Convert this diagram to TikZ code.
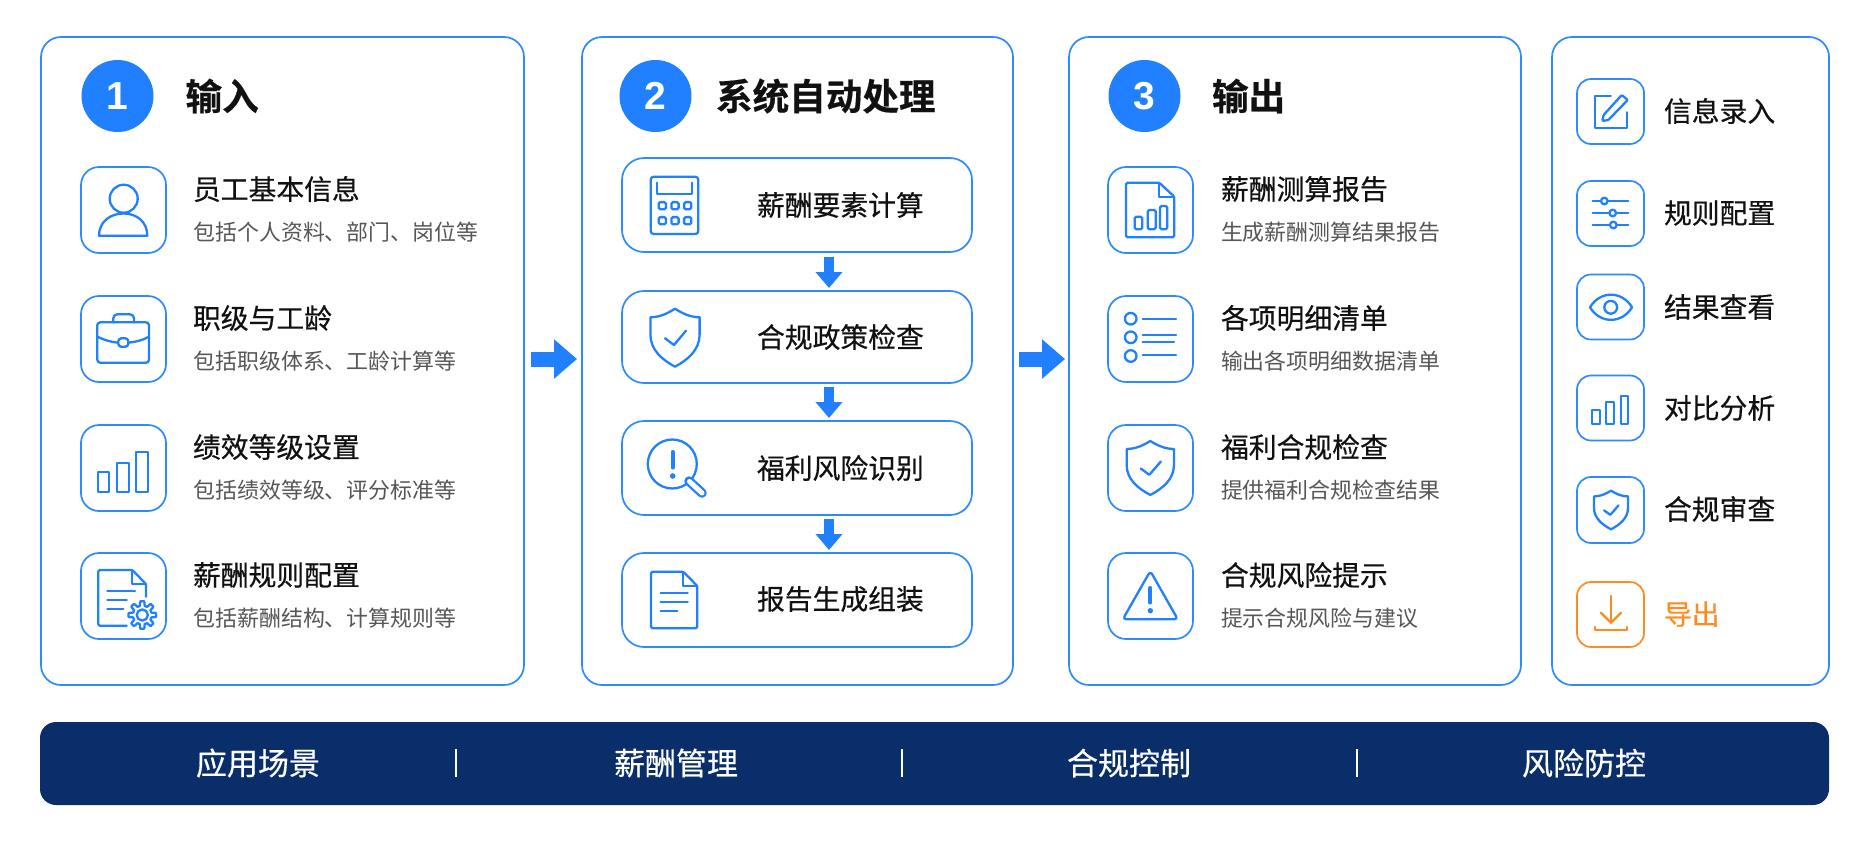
\documentclass[tikz,border=0pt]{standalone}
\usepackage{fontspec}
\usetikzlibrary{arrows.meta,calc}
\newfontfamily\cjkreg{Noto Sans CJK SC}
\newfontfamily\cjkmed[FakeBold=0.45]{Noto Sans CJK SC}
\newfontfamily\cjkbold[FakeBold=0.5]{Noto Sans CJK SC Bold}
\newfontfamily\numfont{Liberation Sans}
\definecolor{brand}{HTML}{2080FF}
\definecolor{edge}{HTML}{2E8AFF}
\definecolor{navy}{HTML}{0A2E6A}
\definecolor{amber}{HTML}{FF8A1F}
\definecolor{ink}{HTML}{111111}
\definecolor{soft}{HTML}{565656}
\tikzset{
  x=1pt,y=-1pt,
  every node/.style={inner sep=0pt,outer sep=0pt},
  panel/.style={draw=edge,line width=1.7pt,fill=white,rounded corners=20pt,minimum height=648pt},
  iconbox/.style={draw=edge,line width=1.7pt,fill=white,rounded corners=18pt,minimum width=85pt,minimum height=86pt},
  toolbox/.style={draw=edge,line width=1.7pt,fill=white,rounded corners=14pt,minimum width=67pt,minimum height=65pt},
  stepcard/.style={draw=edge,line width=1.7pt,fill=white,rounded corners=22pt,minimum width=350pt},
  badge/.style={circle,fill=brand,minimum size=72pt,text=white,font=\numfont\bfseries\fontsize{39}{40}\selectfont},
  headline/.style={anchor=west,text=ink,font=\cjkbold\fontsize{36.6}{37}\selectfont},
  itemtitle/.style={anchor=west,text=ink,font=\cjkmed\fontsize{27.8}{28}\selectfont},
  itemnote/.style={anchor=west,text=soft,font=\cjkreg\fontsize{21.9}{22}\selectfont},
  bandtext/.style={text=white,font=\cjkmed\fontsize{31}{32}\selectfont},
  ic/.style={draw=brand,line width=2.3pt,line join=round,line cap=round},
  blockdown/.style={draw=brand,line width=10pt,-{Triangle[length=16pt,width=26pt,fill=brand]}},
  blockright/.style={draw=brand,line width=15pt,-{Triangle[length=23pt,width=38pt,fill=brand]}},
}
\newcommand{\shieldicon}[4]{% top-centre x, top y, xscale, yscale
  \begin{scope}[shift={(#1,#2)},xscale=#3,yscale=#4]
    \draw[ic] (0,0) .. controls (-8,5) and (-15,8.4) .. (-24.6,8.6) -- (-24.6,26) .. controls (-24.6,41) and (-13,51) .. (0,58) .. controls (13,51) and (24.6,41) .. (24.6,26) -- (24.6,8.6) .. controls (15,8.4) and (8,5) .. (0,0) -- cycle;
    \draw[ic] (-10,29.6) -- (-1,36.3) -- (11,22);
  \end{scope}}
\begin{document}
\begin{tikzpicture}
\useasboundingbox (0,0) rectangle (1870,841);
\fill[white] (0,0) rectangle (1870,841);

% panels
\node[panel,minimum width=483pt] (p1) at (282.5,361) {};
\node[panel,minimum width=431pt] (p2) at (797.5,361) {};
\node[panel,minimum width=452pt] (p3) at (1295,361) {};
\node[panel,minimum width=277pt] (p4) at (1690.5,361) {};

% panel arrows
\draw[blockright] ($(p1.east)+(7,-2)$) -- ($(p2.west)+(-5,-2)$);
\draw[blockright] ($(p2.east)+(6,-2)$) -- ($(p3.west)+(-4,-2)$);

% headers
\node[badge] (n1) at (117.5,96) {1};
\node[badge] (n2) at (655.5,96) {2};
\node[badge] (n3) at (1144.5,96) {3};
\node[headline] (h1) at (185.5,96) {输入};
\node[headline] (h2) at (716,96) {系统自动处理};
\node[headline] (h3) at (1212,96) {输出};

% panel 1 items
\node[iconbox] (a1) at (123.5,210) {};
\node[iconbox] (a2) at (123.5,339) {};
\node[iconbox] (a3) at (123.5,468) {};
\node[iconbox] (a4) at (123.5,596) {};
\node[itemtitle] (a1t) at (193,189) {员工基本信息};
\node[itemnote]  (a1n) at (193.5,232) {包括个人资料、部门、岗位等};
\node[itemtitle] (a2t) at (193,318) {职级与工龄};
\node[itemnote]  (a2n) at (193.5,361) {包括职级体系、工龄计算等};
\node[itemtitle] (a3t) at (193,447) {绩效等级设置};
\node[itemnote]  (a3n) at (193.5,490) {包括绩效等级、评分标准等};
\node[itemtitle] (a4t) at (193,575) {薪酬规则配置};
\node[itemnote]  (a4n) at (193.5,618) {包括薪酬结构、计算规则等};

% person
\draw[ic] (123.7,198.7) circle (14);
\draw[ic] (99,235.7) -- (147.3,235.7) .. controls (147.3,222) and (137,213.5) .. (123.5,213.5) .. controls (110,213.5) and (99,222) .. (99,235.7) -- cycle;
% briefcase
\draw[ic,rounded corners=3pt] (97.3,322.3) rectangle (149,362.7);
\draw[ic,rounded corners=4pt] (113.3,322.3) -- (113.3,314.3) -- (134,314.3) -- (134,322.3);
\draw[ic] (97.3,336.7) .. controls (104,340) and (111,342) .. (118,342.7);
\draw[ic] (128.3,342.7) .. controls (136,342) and (143,340) .. (149,336.7);
\draw[ic,rounded corners=3pt] (118.3,338.3) rectangle (128.3,346.7);
% bars
\draw[ic] (98.3,472.3) rectangle (109,491.7);
\draw[ic] (117.3,463.3) rectangle (129.3,491.7);
\draw[ic] (136,452.3) rectangle (147.7,491.7);
% doc + gear
\draw[ic,rounded corners=1.5pt] (146,596.7) -- (146,584) -- (132.3,570) -- (98.3,570) -- (98.3,625.7) -- (126.7,625.7);
\draw[ic] (132.3,570) -- (132.3,584) -- (146,584);
\draw[ic] (107.3,590.7) -- (135,590.7);
\draw[ic] (107.3,600) -- (126.7,600);
\draw[ic] (107.3,609.3) -- (123.3,609.3);
\begin{scope}[shift={(142.3,615)}]
  \draw[ic,fill=white] plot[domain=0:360,samples=145] (\x:{11.6+2.2*max(-1,min(1,3*cos(8*\x)))}) -- cycle;
  \draw[ic] (0,0) circle (5.6);
\end{scope}

% panel 2 cards
\node[stepcard,minimum height=94pt] (b1) at (797,205) {};
\node[stepcard,minimum height=92pt] (b2) at (797,337) {};
\node[stepcard,minimum height=94pt] (b3) at (797,468) {};
\node[stepcard,minimum height=94pt] (b4) at (797,600) {};
\draw[blockdown] ($(b1.south)+(32,5)$) -- ($(b2.north)+(32,-3)$);
\draw[blockdown] ($(b2.south)+(32,4)$) -- ($(b3.north)+(32,-3)$);
\draw[blockdown] ($(b3.south)+(32,4)$) -- ($(b4.north)+(32,-3)$);
\node[itemtitle] (b1t) at (757,205) {薪酬要素计算};
\node[itemtitle] (b2t) at (757,337) {合规政策检查};
\node[itemtitle] (b3t) at (757,468) {福利风险识别};
\node[itemtitle] (b4t) at (757,599) {报告生成组装};
% calculator
\draw[ic,rounded corners=3pt] (650.7,176.7) rectangle (698.3,234);
\draw[ic] (657.3,182.7) -- (657.3,194) -- (691.7,194) -- (691.7,182.7);
\foreach \bx in {662.3,675,687.7}
  \foreach \by in {205.7,220.7}
    \draw[ic,rounded corners=1.5pt] (\bx-3.6,\by-3.6) rectangle (\bx+3.6,\by+3.6);
% shield
\shieldicon{675}{308.7}{1}{1}
% magnifier
\draw[ic] (672.3,464) circle (24.5);
\draw[draw=brand,line width=9.5pt,line cap=round] (689,481) -- (702,493);
\draw[draw=white,line width=5pt,line cap=round] (689.5,481.5) -- (702,493);
\draw[ic,line width=4pt] (672.7,452) -- (672.7,467.5);
\fill[brand] (672.7,476) circle (2.8);
% document
\draw[ic,rounded corners=1.5pt] (683.3,571.7) -- (651,571.7) -- (651,628.3) -- (697.3,628.3) -- (697.3,586) -- cycle;
\draw[ic] (683.3,571.7) -- (683.3,586) -- (697.3,586);
\draw[ic] (660.7,592.7) -- (687.7,592.7);
\draw[ic] (660.7,602) -- (687.7,602);
\draw[ic] (660.7,611) -- (677.3,611);

% panel 3 items
\node[iconbox] (c1) at (1150.5,210) {};
\node[iconbox] (c2) at (1150.5,339) {};
\node[iconbox] (c3) at (1150.5,468) {};
\node[iconbox] (c4) at (1150.5,596) {};
\node[itemtitle] (c1t) at (1221,189) {薪酬测算报告};
\node[itemnote]  (c1n) at (1221,232) {生成薪酬测算结果报告};
\node[itemtitle] (c2t) at (1221,318) {各项明细清单};
\node[itemnote]  (c2n) at (1221,361) {输出各项明细数据清单};
\node[itemtitle] (c3t) at (1221,447) {福利合规检查};
\node[itemnote]  (c3n) at (1221,490) {提供福利合规检查结果};
\node[itemtitle] (c4t) at (1221,575) {合规风险提示};
\node[itemnote]  (c4n) at (1221,618) {提示合规风险与建议};
% report chart
\draw[ic,rounded corners=1.5pt] (1159.3,182.7) -- (1126,182.7) -- (1126,237.3) -- (1174.3,237.3) -- (1174.3,196.7) -- cycle;
\draw[ic] (1159.3,182.7) -- (1159.3,196.7) -- (1174.3,196.7);
\draw[ic,rounded corners=1.5pt] (1134.7,216.7) rectangle (1142.3,229.3);
\draw[ic,rounded corners=1.5pt] (1147.7,210) rectangle (1155.7,229.3);
\draw[ic,rounded corners=1.5pt] (1160,206) rectangle (1167.3,229.3);
% list
\foreach \ly in {318.7,337.3,356}
  \draw[ic] (1130.7,\ly) circle (5.8);
\draw[ic] (1142.7,318.7) -- (1176,318.7);
\draw[ic] (1142.7,335) -- (1176,335);
\draw[ic] (1142.7,342.3) -- (1174,342.3);
\draw[ic] (1142.7,355.3) -- (1176,355.3);
% shield
\shieldicon{1150.3}{441}{0.96}{0.93}
% warning
\draw[ic,rounded corners=3.5pt] (1150.3,571) -- (1177.8,619.3) -- (1122.8,619.3) -- cycle;
\draw[ic,line width=4pt] (1150.3,588) -- (1150.3,602.5);
\fill[brand] (1150.3,610.7) circle (2.7);

% panel 4 tools
\node[toolbox] (t1) at (1610.5,111.5) {};
\node[toolbox] (t2) at (1610.5,213.5) {};
\node[toolbox] (t3) at (1610.5,307) {};
\node[toolbox] (t4) at (1610.5,408) {};
\node[toolbox,minimum height=66pt] (t5) at (1610.5,510) {};
\node[toolbox,draw=amber] (t6) at (1610.5,614.5) {};
\node[itemtitle] (t1t) at (1664,111) {信息录入};
\node[itemtitle] (t2t) at (1664,213) {规则配置};
\node[itemtitle] (t3t) at (1664,307) {结果查看};
\node[itemtitle] (t4t) at (1664,408) {对比分析};
\node[itemtitle] (t5t) at (1664,509) {合规审查};
\node[itemtitle,text=amber] (t6t) at (1664,614) {导出};
% edit
\draw[ic] (1610.7,96) -- (1595,96) -- (1595,127.7) -- (1626.7,127.7) -- (1626.7,112.3);
\draw[ic,rounded corners=1pt] (1602.3,121) -- (1603.6,115) -- (1621.7,95) -- (1627.7,100) -- (1608.3,120) -- cycle;
% sliders
\draw[ic] (1592.7,201) -- (1628.3,201);
\draw[ic] (1592.7,213) -- (1628.3,213);
\draw[ic] (1592.7,225) -- (1628.3,225);
\draw[ic,fill=white] (1604.3,201) circle (3.3);
\draw[ic,fill=white] (1612.7,213) circle (3.3);
\draw[ic,fill=white] (1613.3,225) circle (3.3);
% eye
\draw[ic] (1590,307.3) .. controls (1600,290.5) and (1622,290.5) .. (1632,307.3) .. controls (1622,324) and (1600,324) .. (1590,307.3) -- cycle;
\draw[ic] (1610.7,307.3) circle (6.4);
% bars
\draw[ic] (1592.3,410) rectangle (1600,424);
\draw[ic] (1606,402) rectangle (1614,424);
\draw[ic] (1621,396) rectangle (1628.3,424);
% shield
\shieldicon{1611}{490.7}{0.69}{0.665}
% download
\draw[ic,draw=amber] (1611,596) -- (1611,622.7);
\draw[ic,draw=amber] (1601,612.7) -- (1611,622.7) -- (1621,612.7);
\draw[ic,draw=amber] (1595,627) -- (1595,630) -- (1627,630) -- (1627,627);

% bottom band
\node[fill=navy,rounded corners=16pt,minimum width=1789pt,minimum height=83pt] (band) at (934.5,763.5) {};
\node[bandtext] (s1) at (258,763) {应用场景};
\node[bandtext] (s2) at (676,763) {薪酬管理};
\node[bandtext] (s3) at (1129,763) {合规控制};
\node[bandtext] (s4) at (1584,763) {风险防控};
\coordinate (d1a) at (456,749); \coordinate (d1b) at (456,777);
\coordinate (d2a) at (902,749); \coordinate (d2b) at (902,777);
\coordinate (d3a) at (1357,749); \coordinate (d3b) at (1357,777);
\draw[white,line width=1.8pt] (d1a) -- (d1b);
\draw[white,line width=1.8pt] (d2a) -- (d2b);
\draw[white,line width=1.8pt] (d3a) -- (d3b);
\end{tikzpicture}
\end{document}
